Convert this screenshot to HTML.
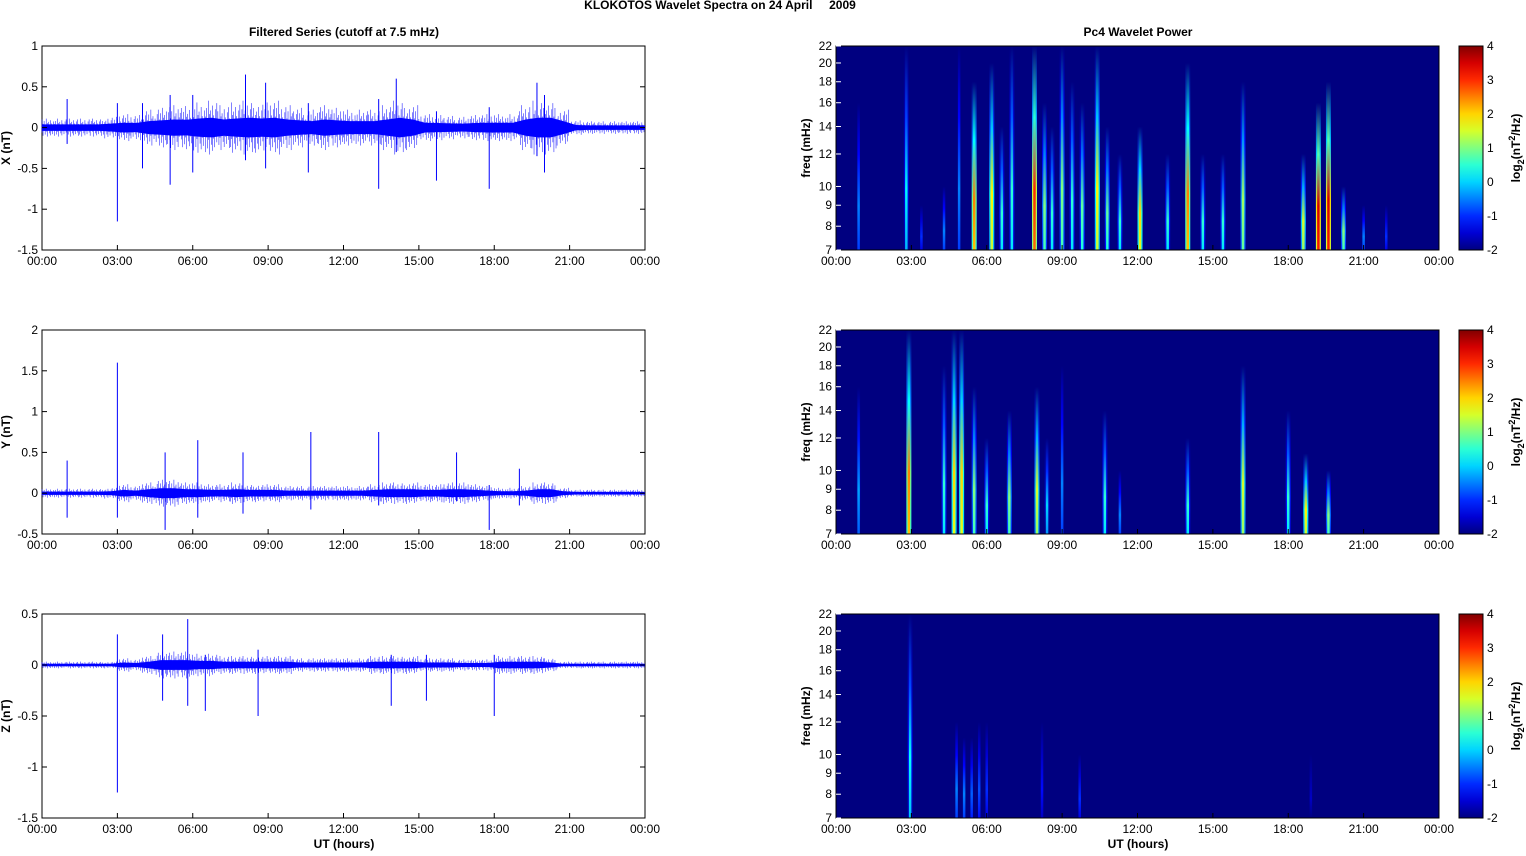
<!DOCTYPE html>
<html><head><meta charset="utf-8"><style>
body{margin:0;background:#fff;font-family:"Liberation Sans",sans-serif}
svg text{font-family:"Liberation Sans",sans-serif;font-size:12px}
</style></head><body>
<svg id="c" width="1526" height="851" xmlns="http://www.w3.org/2000/svg">
<text x="720" y="9" text-anchor="middle" font-weight="bold" style="white-space:pre">KLOKOTOS Wavelet Spectra on 24 April     2009</text>
<text x="344" y="36" text-anchor="middle" font-weight="bold">Filtered Series (cutoff at 7.5 mHz)</text>
<text x="1138" y="36" text-anchor="middle" font-weight="bold">Pc4 Wavelet Power</text>
<text x="344" y="848" text-anchor="middle" font-weight="bold">UT (hours)</text>
<text x="1138" y="848" text-anchor="middle" font-weight="bold">UT (hours)</text>
</svg>
<script>
// ---- data ----
const timeTicks=["00:00","03:00","06:00","09:00","12:00","15:00","18:00","21:00","00:00"];
const freqTicks=[7,8,9,10,12,14,16,18,20,22];
const cbTicks=[4,3,2,1,0,-1,-2];
const envX=[0.1,0.1,0.1,0.1,0.1,0.12,0.15,0.14,0.2,0.22,0.25,0.24,0.28,0.3,0.25,0.28,0.3,0.28,0.3,0.25,0.22,0.2,0.25,0.22,0.2,0.2,0.2,0.25,0.3,0.25,0.15,0.14,0.13,0.12,0.14,0.15,0.15,0.15,0.25,0.3,0.3,0.2,0.08,0.07,0.07,0.07,0.07,0.07];
const spkX=[[1.0,-0.2,0.35],[3.0,-1.15,0.3],[4.0,-0.5,0.3],[5.1,-0.7,0.4],[6.0,-0.55,0.4],[8.1,-0.4,0.65],[8.9,-0.5,0.55],[10.6,-0.55,0.3],[13.4,-0.75,0.35],[14.1,-0.3,0.6],[15.7,-0.65,0.2],[17.8,-0.75,0.25],[19.7,-0.35,0.55],[20.0,-0.55,0.4]];
const envY=[0.05,0.05,0.05,0.05,0.05,0.06,0.1,0.08,0.12,0.15,0.15,0.12,0.12,0.1,0.1,0.12,0.1,0.1,0.1,0.08,0.08,0.08,0.08,0.08,0.08,0.08,0.1,0.12,0.12,0.12,0.1,0.1,0.12,0.12,0.1,0.08,0.06,0.06,0.08,0.12,0.12,0.06,0.04,0.04,0.04,0.04,0.04,0.04];
const spkY=[[1.0,-0.3,0.4],[3.0,-0.3,1.6],[4.9,-0.45,0.5],[6.2,-0.3,0.65],[8.0,-0.25,0.5],[10.7,-0.2,0.75],[13.4,-0.15,0.75],[16.5,-0.1,0.5],[17.8,-0.45,0.1],[19.0,-0.15,0.3]];
const envZ=[0.03,0.03,0.03,0.03,0.03,0.03,0.06,0.05,0.08,0.12,0.12,0.12,0.1,0.1,0.08,0.08,0.08,0.08,0.08,0.08,0.06,0.06,0.06,0.06,0.06,0.06,0.08,0.08,0.08,0.08,0.06,0.06,0.06,0.05,0.05,0.05,0.08,0.08,0.08,0.08,0.06,0.03,0.03,0.03,0.03,0.03,0.03,0.03];
const spkZ=[[3.0,-1.25,0.3],[4.8,-0.35,0.3],[5.8,-0.4,0.45],[6.5,-0.45,0.1],[8.6,-0.5,0.15],[13.9,-0.4,0.1],[15.3,-0.35,0.1],[18.0,-0.5,0.1]];
// spectrogram events: [hour, top freq mHz, log2 power at peak]
const evX=[[0.9,16,-0.5],[2.8,22,0.2],[3.4,9,-1],[4.3,10,-0.5],[4.9,22,-0.5],[5.5,18,2.5],[6.2,20,1.8],[6.6,14,0.5],[7.0,22,0.5],[7.9,22,3],[8.3,16,1],[8.6,14,0.5],[9.0,22,1],[9.4,18,0.5],[9.8,16,0.8],[10.4,22,1.8],[10.8,14,0.8],[11.3,12,0.5],[12.1,14,2],[13.2,12,0.5],[14.0,20,2.5],[14.6,12,0.5],[15.4,12,0.5],[16.2,18,1.2],[18.6,12,1.5],[19.2,16,3.5],[19.6,18,3.5],[20.2,10,1],[21.0,9,-0.5],[21.9,9,-1]];
const evY=[[0.9,16,-0.3],[2.9,22,2.5],[4.3,18,0.5],[4.7,22,2],[5.0,22,2],[5.5,16,1],[6.0,12,0.5],[6.9,14,1],[8.0,16,1.5],[8.4,12,0],[9.0,18,-0.5],[10.7,14,0.5],[11.3,10,-0.5],[14.0,12,0.5],[16.2,18,1.5],[18.0,14,0.5],[18.7,11,1.8],[19.6,10,1]];
const evZ=[[2.95,22,0.3],[4.8,12,-0.5],[5.1,11,-0.5],[5.4,11,-0.7],[5.7,12,-0.8],[6.0,12,-1],[8.2,12,-1.2],[9.7,10,-1],[18.9,10,-1.6]];
// ---- drawing ----
const S=document.getElementById('c'),NS='http://www.w3.org/2000/svg';
function el(t,a,p){const e=document.createElementNS(NS,t);for(const k in a)e.setAttribute(k,a[k]);(p||S).appendChild(e);return e;}
function jet(v){let t=Math.max(0,Math.min(1,(v+2)/6));const c=x=>Math.round(255*Math.max(0,Math.min(1,1.5-Math.abs(4*t-x))));return `rgb(${c(3)},${c(2)},${c(1)})`;}
const defs=el('defs',{});
const tops=[46,330,614],H=204,LX=42,RX=836,W=603;
const hx=(x0,h)=>x0+h/24*W;
const jitU=[1.0,0.45,0.8,0.3,1.1,0.55,0.7,0.35,0.9,0.5,0.25,0.75];
const jitD=[0.6,1.0,0.4,0.85,0.5,1.1,0.3,0.7,0.95,0.45,0.8,0.35];
function timeAxis(x0,y0,name){timeTicks.forEach((s,i)=>{const x=x0+i*W/8;
 const l=el('line',{x1:x,x2:x,y1:y0+H,y2:y0+H-5,stroke:'#000'});
 
 const t=el('text',{x:x,y:y0+H+15,'text-anchor':'middle'});t.textContent=s;
 });}
function series(i,env,spk,lo,hi,step,lab,name){
 const y0=tops[i],ys=v=>y0+(hi-v)/(hi-lo)*H;
 const g=el('g',{});
 el('rect',{x:LX,y:y0,width:W,height:H,fill:'#fff',stroke:'#000'},g);
 const core=0.4;
 let up=[],dn=[];env.forEach((a,k)=>{const x=hx(LX,k*0.5+0.25);up.push(x+','+ys(a*core));dn.unshift(x+','+ys(-a*core));});
 up.unshift(LX+','+ys(env[0]*core));up.push((LX+W)+','+ys(env[env.length-1]*core));dn.push(LX+','+ys(-env[0]*core));dn.unshift((LX+W)+','+ys(-env[env.length-1]*core));
 const p=el('polygon',{points:up.concat(dn).join(' '),fill:'#0000ff'},g);
 
 env.forEach((a,k)=>{for(let j=0;j<12;j++){const h=k*0.5+j/24;const x=hx(LX,h);
  const q=(j+k)%12;
  const l=el('line',{x1:x,x2:x,y1:ys(a*jitU[q]),y2:ys(-a*jitD[q]),stroke:'#0000ff','stroke-width':0.5},g);
  }});
 spk.forEach(s=>{const x=hx(LX,s[0]);const l=el('line',{x1:x,x2:x,y1:ys(s[2]),y2:ys(s[1]),stroke:'#0000ff','stroke-width':1}, g);
  });
 for(let v=lo;v<=hi+1e-9;v+=step){const y=ys(v);el('line',{x1:LX,x2:LX+5,y1:y,y2:y,stroke:'#000'});el('line',{x1:LX+W,x2:LX+W-5,y1:y,y2:y,stroke:'#000'});
  const t=el('text',{x:LX-4,y:y+4,'text-anchor':'end'});t.textContent=String(+v.toFixed(1));
  }
 const t=el('text',{x:0,y:0,'text-anchor':'middle','font-weight':'bold',transform:`translate(10,${y0+H/2}) rotate(-90)`});t.textContent=lab;
 
 timeAxis(LX,y0,name);}
series(0,envX,spkX,-1.5,1,0.5,'X (nT)','x-series-plot');
series(1,envY,spkY,-0.5,2,0.5,'Y (nT)','y-series-plot');
series(2,envZ,spkZ,-1.5,0.5,0.5,'Z (nT)','z-series-plot');
let gid=0;
function spec(i,ev,name){
 const y0=tops[i],fy=f=>y0+Math.log(22/f)/Math.log(22/7)*H;
 const g=el('g',{});
 el('rect',{x:RX,y:y0,width:W,height:H,fill:jet(-2)},g);
 ev.forEach(e=>{const x=hx(RX,e[0]),yt=fy(e[1]);
  [[5,e[2]-1.6],[2.5,e[2]]].forEach((wv,n)=>{const id='g'+(gid++);const lg=el('linearGradient',{id:id,x1:0,y1:1,x2:0,y2:0},defs);
   const pk=wv[1];
   [[0,pk-0.4],[0.3,pk],[0.65,(pk-2)/2],[1,-2]].forEach(s=>el('stop',{offset:s[0],'stop-color':jet(s[1])},lg));
   const r=el('rect',{x:x-wv[0]/2,y:yt,width:wv[0],height:y0+H-yt,fill:`url(#${id})`},g);
   });});
 el('rect',{x:RX,y:y0,width:W,height:H,fill:'none',stroke:'#000'},g);
 freqTicks.forEach(f=>{const y=fy(f);el('line',{x1:RX,x2:RX+5,y1:y,y2:y,stroke:'#fff'});
  const t=el('text',{x:RX-4,y:y+4,'text-anchor':'end'});t.textContent=f;
  });
 const t=el('text',{x:0,y:0,'text-anchor':'middle','font-weight':'bold',transform:`translate(810,${y0+H/2}) rotate(-90)`});t.textContent='freq (mHz)';
 
 timeAxis(RX,y0,name);
 const cg=el('linearGradient',{id:'cb'+i,x1:0,y1:1,x2:0,y2:0},defs);
 for(let k=0;k<=12;k++)el('stop',{offset:k/12,'stop-color':jet(-2+k/2)},cg);
 const cb=el('rect',{x:1459,y:y0,width:24,height:H,fill:`url(#cb${i})`,stroke:'#000'});
 
 cbTicks.forEach(v=>{const y=y0+(4-v)/6*H;const t=el('text',{x:1487,y:y+4});t.textContent=v;
  });
 const ct=el('text',{x:0,y:0,'text-anchor':'middle','font-weight':'bold',transform:`translate(1520,${y0+H/2}) rotate(-90)`});
 ct.innerHTML='log<tspan dy="4" font-size="9">2</tspan><tspan dy="-4">(nT</tspan><tspan dy="-5" font-size="9">2</tspan><tspan dy="5">/Hz)</tspan>';
 }
spec(0,evX,'x-wavelet-plot');spec(1,evY,'y-wavelet-plot');spec(2,evZ,'z-wavelet-plot');
</script>
</body></html>
